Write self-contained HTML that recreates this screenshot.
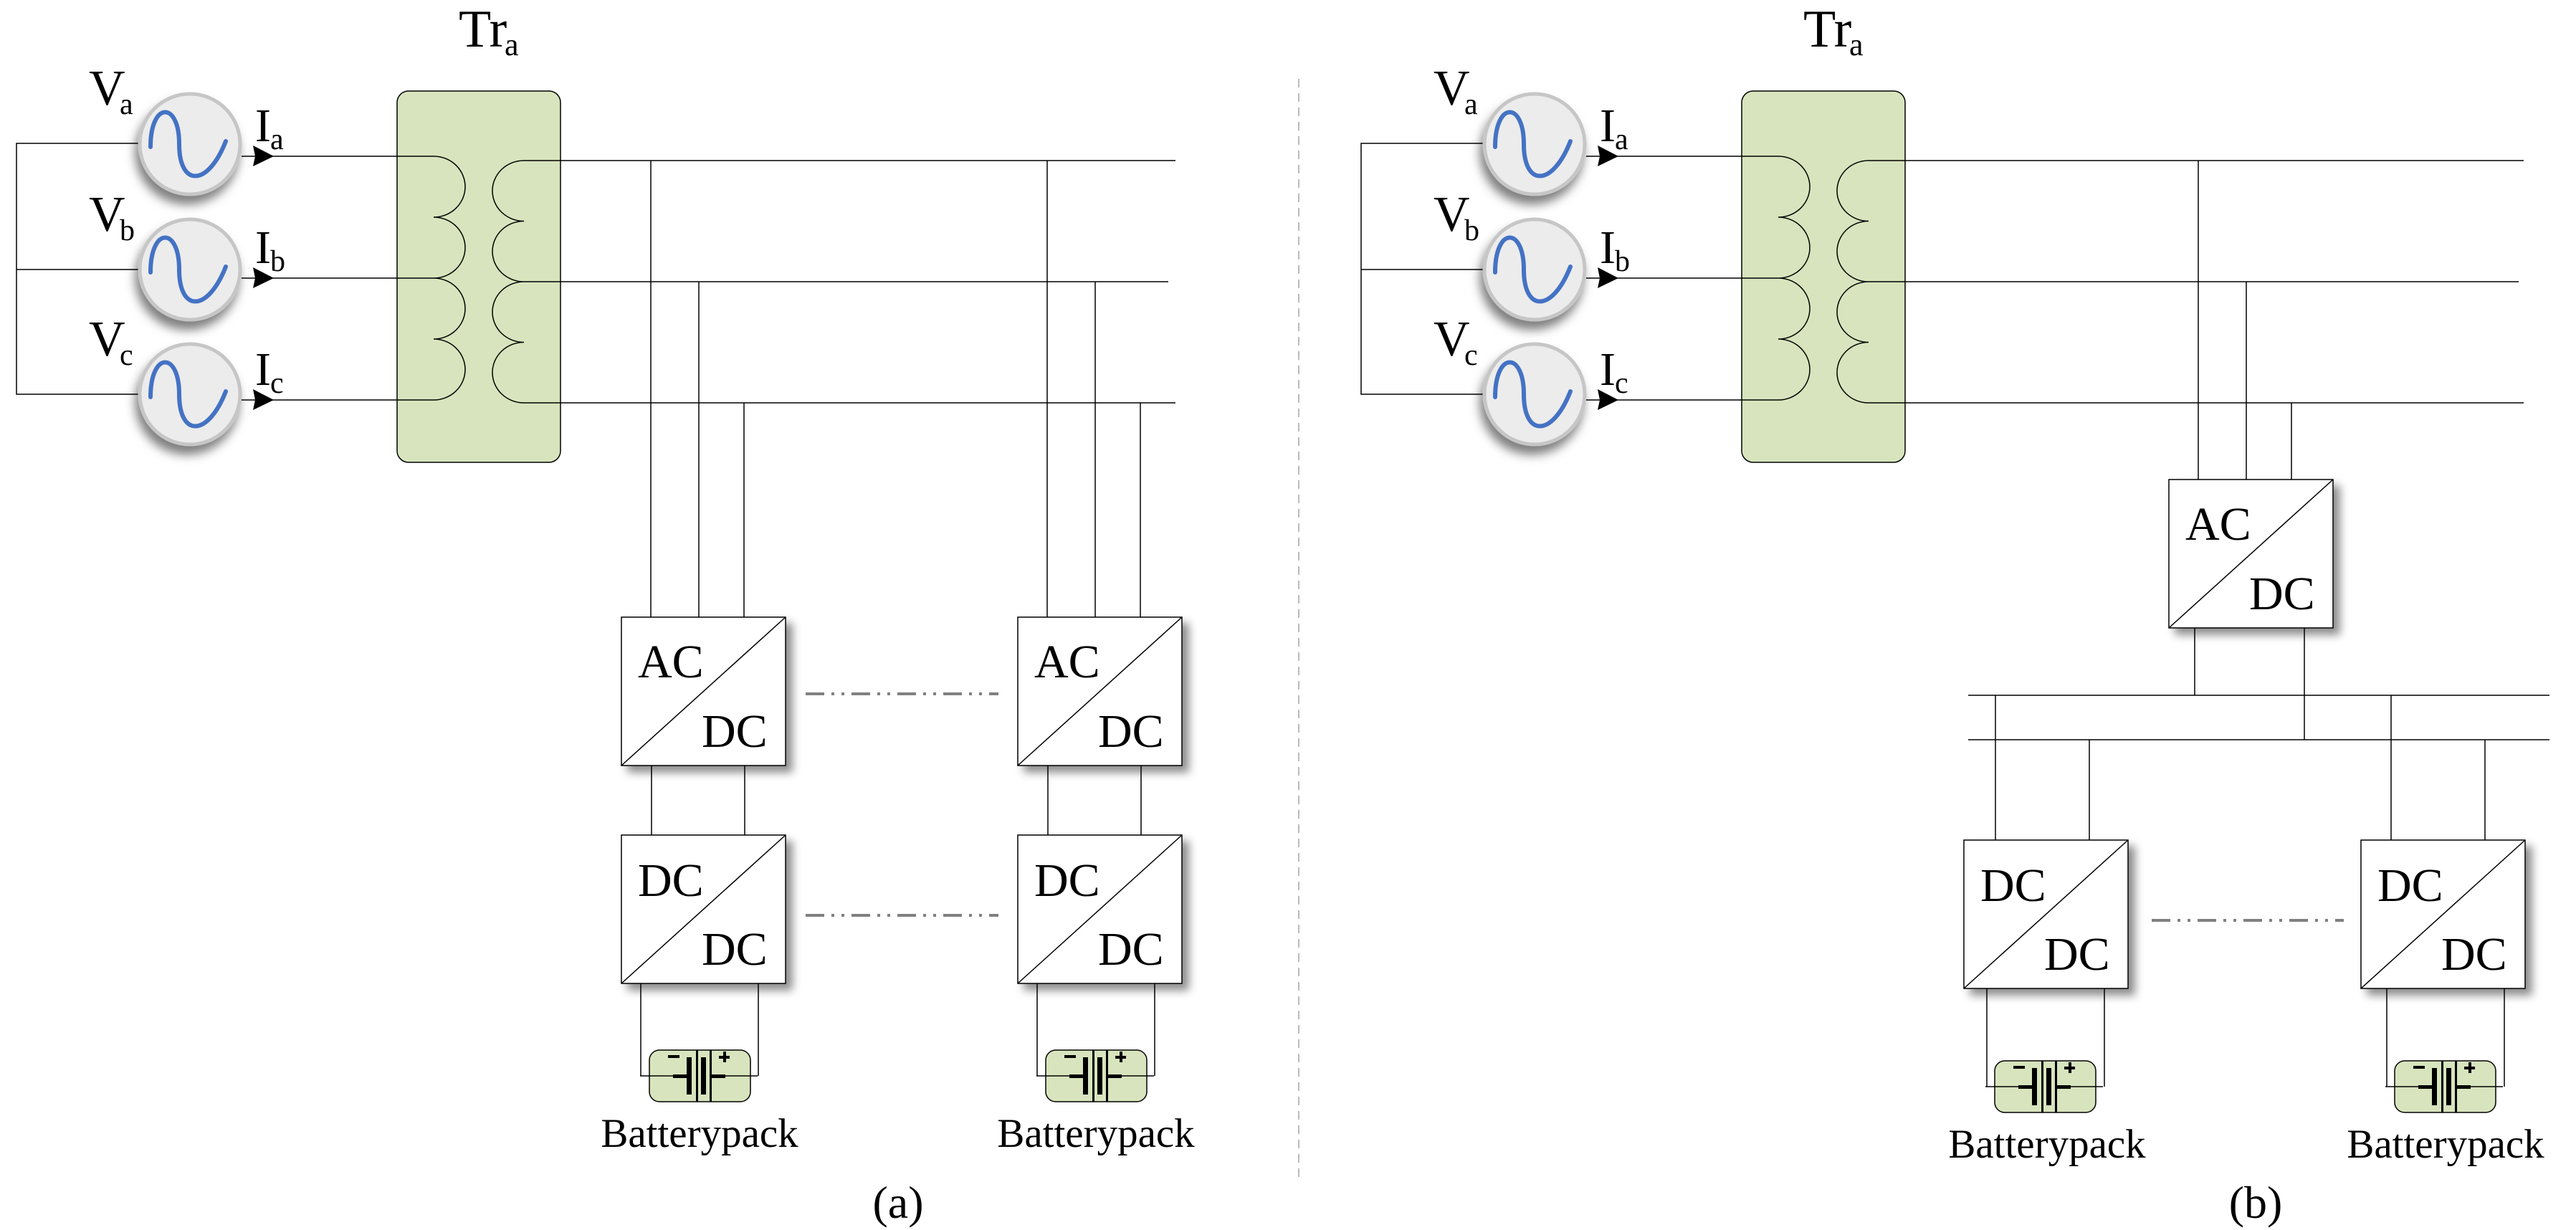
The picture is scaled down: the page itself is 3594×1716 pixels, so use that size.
<!DOCTYPE html>
<html><head><meta charset="utf-8"><style>
html,body{margin:0;padding:0;background:#fff;}
#w{position:relative;width:3594px;height:1716px;overflow:hidden;}
svg{display:block;position:absolute;left:0;top:0;}
.t{position:absolute;font-family:"Liberation Serif","Times New Roman",serif;line-height:1;white-space:nowrap;color:#000;}
.c{text-align:center;width:400px;}
</style></head><body><div id="w">
<svg width="3594" height="1716" viewBox="0 0 3594 1716" xmlns="http://www.w3.org/2000/svg">
<defs>
<filter id="sh" x="-20%" y="-20%" width="150%" height="150%">
<feDropShadow dx="9" dy="9" stdDeviation="6" flood-color="#000" flood-opacity="0.45"/>
</filter>
<filter id="csh" x="-30%" y="-30%" width="160%" height="170%">
<feDropShadow dx="-4" dy="12" stdDeviation="7" flood-color="#000" flood-opacity="0.5"/>
</filter>
<g id="src">
<circle cx="0" cy="0" r="70" fill="#ececec" stroke="#c6c6c6" stroke-width="5" filter="url(#csh)"/>
<path d="M -55 4 C -55 -60 -15 -60 -15 0 S 25 60 50 -4" fill="none" stroke="#4472c4" stroke-width="6" stroke-linecap="round"/>
</g>
<g id="bat">
<rect x="906" y="1465" width="141" height="72" rx="14" fill="#d7e4bd" stroke="#000" stroke-width="1.5"/>
<line x1="893" y1="1501" x2="958" y2="1501" stroke="#000" stroke-width="1.5"/>
<line x1="993" y1="1501" x2="1057" y2="1501" stroke="#000" stroke-width="1.5"/>
<rect x="939" y="1499" width="20" height="5" fill="#000"/>
<rect x="993" y="1499" width="19" height="5" fill="#000"/>
<rect x="958" y="1475" width="7" height="52" fill="#000"/>
<rect x="971" y="1465" width="3" height="72" fill="#000"/>
<rect x="978" y="1475" width="7" height="52" fill="#000"/>
<rect x="990" y="1465" width="3" height="72" fill="#000"/>
<rect x="932" y="1472" width="16" height="4" fill="#000"/>
<rect x="1003" y="1473" width="15" height="4" fill="#000"/>
<rect x="1009" y="1467" width="4" height="15" fill="#000"/>
</g>
<g id="top">
<path d="M193 200 H23 V550 H193 M23 376 H193" fill="none" stroke="#000" stroke-width="1.5"/>
<use href="#src" x="265" y="201"/>
<use href="#src" x="265" y="376"/>
<use href="#src" x="265" y="550"/>
<path d="M337 218 H382 M337 388 H382 M337 558 H382" stroke="#000" stroke-width="1.5" fill="none"/>
<g fill="#000">
<polygon points="353,203 382,218 353,232 356,218"/>
<polygon points="353,373 382,388 353,402 356,388"/>
<polygon points="353,543 382,558 353,572 356,558"/>
</g>
<rect x="554" y="127" width="228" height="518" rx="16" fill="#d7e4bd" stroke="#000" stroke-width="1.5"/>
<g stroke="#000" stroke-width="1.5" fill="none">
<path d="M382 218 H605 A44 42.5 0 0 1 605 303 A44 42.5 0 0 1 605 388 A44 42.5 0 0 1 605 473 A44 42.5 0 0 1 605 558 H382"/>
<path d="M382 388 H605"/>
<path d="M731 224 A44 42.25 0 0 0 731 308.5 A44 42.25 0 0 0 731 393 A44 42.25 0 0 0 731 477.5 A44 42.25 0 0 0 731 562"/>
</g>
</g>
</defs>

<line x1="1812" y1="110" x2="1812" y2="1645" stroke="#bbb" stroke-width="2" stroke-dasharray="12 8"/>

<use href="#top"/>
<g stroke="#000" stroke-width="1.5" fill="none">
<path d="M731 224 H1640 M731 393 H1630 M731 562 H1640"/>
<path d="M908 224 V861 M975 393 V861 M1038 562 V861"/>
<path d="M1461 224 V861 M1528 393 V861 M1591 562 V861"/>
<path d="M909 1068 V1165 M1039 1068 V1165 M1462 1068 V1165 M1592 1068 V1165"/>
<path d="M894 1372 V1501 M1058 1372 V1501 M1447 1372 V1501 M1611 1372 V1501"/>
</g>
<rect x="867" y="861" width="229" height="207" fill="#fff" stroke="#000" stroke-width="1.5" filter="url(#sh)"/>
<line x1="867" y1="1068" x2="1096" y2="861" stroke="#000" stroke-width="1.5"/>
<rect x="1420" y="861" width="229" height="207" fill="#fff" stroke="#000" stroke-width="1.5" filter="url(#sh)"/>
<line x1="1420" y1="1068" x2="1649" y2="861" stroke="#000" stroke-width="1.5"/>
<rect x="867" y="1165" width="229" height="207" fill="#fff" stroke="#000" stroke-width="1.5" filter="url(#sh)"/>
<line x1="867" y1="1372" x2="1096" y2="1165" stroke="#000" stroke-width="1.5"/>
<rect x="1420" y="1165" width="229" height="207" fill="#fff" stroke="#000" stroke-width="1.5" filter="url(#sh)"/>
<line x1="1420" y1="1372" x2="1649" y2="1165" stroke="#000" stroke-width="1.5"/>
<g stroke="#808080" stroke-width="4" stroke-dasharray="26 10 4 10 4 10">
<line x1="1124" y1="968" x2="1393" y2="968"/>
<line x1="1124" y1="1277" x2="1393" y2="1277"/>
</g>
<use href="#bat"/>
<use href="#bat" x="553"/>

<use href="#top" x="1876"/>
<g stroke="#000" stroke-width="1.5" fill="none">
<path d="M2607 224 H3521 M2607 393 H3514 M2607 562 H3521"/>
<path d="M3067 224 V669 M3134 393 V669 M3197 562 V669"/>
<path d="M2746 970 H3557 M2746 1032 H3557"/>
<path d="M3062 876 V970 M3215 876 V1032"/>
<path d="M2784 970 V1172 M2915 1032 V1172 M3336 970 V1172 M3467 1032 V1172"/>
<path d="M2772 1379 V1516 M2936 1379 V1516 M3330 1379 V1516 M3494 1379 V1516"/>
</g>
<rect x="3026" y="669" width="229" height="207" fill="#fff" stroke="#000" stroke-width="1.5" filter="url(#sh)"/>
<line x1="3026" y1="876" x2="3255" y2="669" stroke="#000" stroke-width="1.5"/>
<rect x="2740" y="1172" width="229" height="207" fill="#fff" stroke="#000" stroke-width="1.5" filter="url(#sh)"/>
<line x1="2740" y1="1379" x2="2969" y2="1172" stroke="#000" stroke-width="1.5"/>
<rect x="3294" y="1172" width="229" height="207" fill="#fff" stroke="#000" stroke-width="1.5" filter="url(#sh)"/>
<line x1="3294" y1="1379" x2="3523" y2="1172" stroke="#000" stroke-width="1.5"/>
<line x1="3002" y1="1284" x2="3270" y2="1284" stroke="#808080" stroke-width="4" stroke-dasharray="26 10 4 10 4 10"/>
<use href="#bat" x="1877" y="15"/>
<use href="#bat" x="2435" y="15"/>
</svg>

<!-- (a) top labels -->
<div class="t" style="left:124px;top:89px;font-size:70px">V</div><div class="t" style="left:167px;top:125px;font-size:42px">a</div>
<div class="t" style="left:124px;top:265px;font-size:70px">V</div><div class="t" style="left:167px;top:301px;font-size:42px">b</div>
<div class="t" style="left:124px;top:439px;font-size:70px">V</div><div class="t" style="left:167px;top:475px;font-size:42px">c</div>
<div class="t" style="left:356px;top:143px;font-size:66px">I</div><div class="t" style="left:377px;top:174px;font-size:42px">a</div>
<div class="t" style="left:356px;top:313px;font-size:66px">I</div><div class="t" style="left:377px;top:344px;font-size:42px">b</div>
<div class="t" style="left:356px;top:483px;font-size:66px">I</div><div class="t" style="left:377px;top:514px;font-size:42px">c</div>
<div class="t" style="left:640px;top:4px;font-size:74px">Tr</div><div class="t" style="left:704px;top:41px;font-size:44px">a</div>
<!-- (b) top labels -->
<div class="t" style="left:2000px;top:89px;font-size:70px">V</div><div class="t" style="left:2043px;top:125px;font-size:42px">a</div>
<div class="t" style="left:2000px;top:265px;font-size:70px">V</div><div class="t" style="left:2043px;top:301px;font-size:42px">b</div>
<div class="t" style="left:2000px;top:439px;font-size:70px">V</div><div class="t" style="left:2043px;top:475px;font-size:42px">c</div>
<div class="t" style="left:2232px;top:143px;font-size:66px">I</div><div class="t" style="left:2253px;top:174px;font-size:42px">a</div>
<div class="t" style="left:2232px;top:313px;font-size:66px">I</div><div class="t" style="left:2253px;top:344px;font-size:42px">b</div>
<div class="t" style="left:2232px;top:483px;font-size:66px">I</div><div class="t" style="left:2253px;top:514px;font-size:42px">c</div>
<div class="t" style="left:2516px;top:4px;font-size:74px">Tr</div><div class="t" style="left:2580px;top:41px;font-size:44px">a</div>

<!-- box labels (a) -->
<div class="t" style="left:890px;top:891px;font-size:66px">AC</div><div class="t" style="left:979px;top:988px;font-size:66px">DC</div>
<div class="t" style="left:1443px;top:891px;font-size:66px">AC</div><div class="t" style="left:1532px;top:988px;font-size:66px">DC</div>
<div class="t" style="left:890px;top:1196px;font-size:66px">DC</div><div class="t" style="left:979px;top:1292px;font-size:66px">DC</div>
<div class="t" style="left:1443px;top:1196px;font-size:66px">DC</div><div class="t" style="left:1532px;top:1292px;font-size:66px">DC</div>
<!-- box labels (b) -->
<div class="t" style="left:3049px;top:699px;font-size:66px">AC</div><div class="t" style="left:3138px;top:796px;font-size:66px">DC</div>
<div class="t" style="left:2763px;top:1203px;font-size:66px">DC</div><div class="t" style="left:2852px;top:1299px;font-size:66px">DC</div>
<div class="t" style="left:3317px;top:1203px;font-size:66px">DC</div><div class="t" style="left:3406px;top:1299px;font-size:66px">DC</div>

<div class="t c" style="left:776px;top:1553px;font-size:57px">Batterypack</div>
<div class="t c" style="left:1329px;top:1553px;font-size:57px">Batterypack</div>
<div class="t c" style="left:1053px;top:1646px;font-size:64px">(a)</div>
<div class="t c" style="left:2656px;top:1568px;font-size:57px">Batterypack</div>
<div class="t c" style="left:3212px;top:1568px;font-size:57px">Batterypack</div>
<div class="t c" style="left:2947px;top:1646px;font-size:64px">(b)</div>
</div></body></html>
